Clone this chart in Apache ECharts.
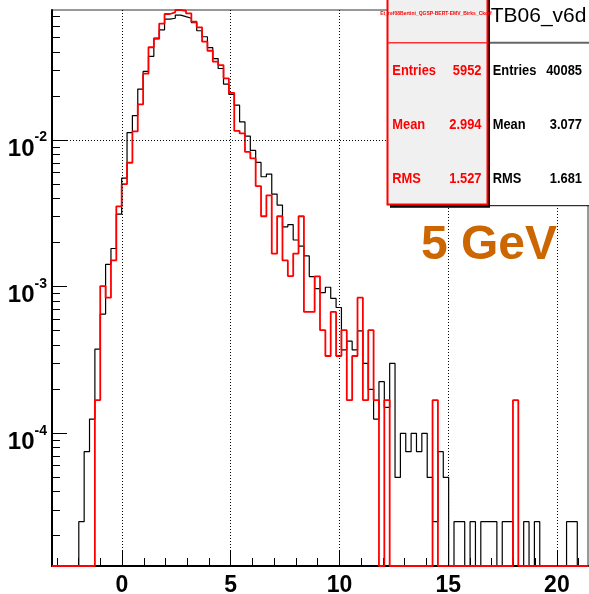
<!DOCTYPE html>
<html><head><meta charset="utf-8">
<script src="https://cdn.jsdelivr.net/npm/echarts@6/dist/echarts.min.js"></script>
<style>html,body{margin:0;padding:0;background:#fff}#c{width:589px;height:594px}</style>
</head><body><div id="c"></div>
<script>
// ---- data (normalized bin contents, 100 equal bins over [xMin, xMax]) ----
const xMin = -3.22, xMax = 21.43;
const yMin = 1.24e-5, yMax = 0.0772;
const blackValues = [
0,0,0,0,0,
2.49e-5,7.48e-5,1.247e-4,3.74e-4,6.49e-4,
1.42e-3,1.82e-3,3.12e-3,5.5e-3,0.01125,
0.0147,0.0223,0.0294,0.0373,0.0496,
0.0565,0.0669,0.0678,0.0713,0.0695,
0.0678,0.0632,0.0557,0.0507,0.0427,
0.036,0.0308,0.0241,0.0205,0.0173,
0.0133,0.01064,0.0085,0.00704,0.00562,
0.00586,0.00428,0.0036,0.00256,0.00265,
0.00208,0.00189,0.00162,0.00117,9.7e-4,
9.1e-4,9.9e-4,8.3e-4,7.2e-4,3.7e-4,
4.24e-4,3.7e-4,4.99e-4,2.99e-4,1.99e-4,
1.247e-4,2.245e-4,1.497e-4,2.99e-4,4.99e-5,
9.98e-5,7.48e-5,9.98e-5,7.48e-5,9.98e-5,
4.99e-5,2.49e-5,7.48e-5,4.99e-5,0,
2.49e-5,2.49e-5,0,2.49e-5,0,
2.49e-5,2.49e-5,2.49e-5,0,2.49e-5,
2.49e-5,0,0,2.49e-5,0,
2.49e-5,0,0,0,0,
0,2.49e-5,2.49e-5,0,0
];
const redValues = [
0,0,0,0,0,
0,0,0,1.68e-4,1.008e-3,
8.4e-4,1.512e-3,3.53e-3,5.0e-3,7.0e-3,
0.01146,0.0175,0.0284,0.043,0.049,
0.0624,0.0725,0.0744,0.0772,0.0763,
0.0733,0.0643,0.0588,0.0469,0.0407,
0.0343,0.0325,0.0264,0.021,0.01156,
0.0111,0.0083,0.0075,0.00485,0.00302,
0.0042,0.00168,0.00302,0.00151,0.00118,
0.00168,0.00302,6.72e-4,6.72e-4,1.176e-3,
5.04e-4,3.36e-4,6.72e-4,3.36e-4,5.04e-4,
1.68e-4,3.36e-4,8.4e-4,1.68e-4,5.04e-4,
1.68e-4,0,1.68e-4,0,0,
0,0,0,0,0,
0,1.68e-4,0,0,0,
0,0,0,0,0,
0,0,0,0,0,
0,1.68e-4,0,0,0,
0,0,0,0,0,
0,0,0,0,0
];
const xMajorTicks = [0, 5, 10, 15, 20];
const xMinorTicks = [-3,-2,-1,0,1,2,3,4,5,6,7,8,9,10,11,12,13,14,15,16,17,18,19,20,21];
const yMajorTicks = [1e-4, 1e-3, 1e-2];
const yMinorTicks = [2e-5,3e-5,4e-5,5e-5,6e-5,7e-5,8e-5,9e-5,
  2e-4,3e-4,4e-4,5e-4,6e-4,7e-4,8e-4,9e-4,
  2e-3,3e-3,4e-3,5e-3,6e-3,7e-3,8e-3,9e-3,
  2e-2,3e-2,4e-2,5e-2,6e-2,7e-2];
const redStats = {title: 'Et_ref08Bertini_QGSP-BERT-EMV_Birks_Ckorf', entries: '5952', mean: '2.994', rms: '1.527'};
const blackStats = {title: 'TB06_v6d', entries: '40085', mean: '3.077', rms: '1.681'};
const energyLabel = '5 GeV';

// ---- build step data from bins ----
function stepData(vals) {
  const w = (xMax - xMin) / vals.length;
  const pts = vals.map((v, i) => [xMin + i * w, v > 0 ? v : yMin]);
  const last = vals[vals.length - 1];
  pts.push([xMax, last > 0 ? last : yMin]);
  return pts;
}

const FF = '"Liberation Sans", Arial, Helvetica, sans-serif';
const chart = echarts.init(document.getElementById('c'), null, {renderer: 'canvas'});

const dotted = {color: '#000', width: 1, type: [1, 2]};

function statTexts(s, color, left, right) {
  const rows = [['Entries', s.entries, 70.8], ['Mean', s.mean, 125], ['RMS', s.rms, 179.2]];
  const out = [];
  rows.forEach(r => {
    out.push({type: 'text', z: 103, x: left, y: r[2], scaleX: 0.92, style: {text: r[0], font: 'bold 14px ' + FF, fill: color, align: 'left', textAlign: 'left', verticalAlign: 'middle', textVerticalAlign: 'middle'}});
    out.push({type: 'text', z: 103, x: right, y: r[2], scaleX: 0.92, style: {text: r[1], font: 'bold 14px ' + FF, fill: color, align: 'right', textAlign: 'right', verticalAlign: 'middle', textVerticalAlign: 'middle'}});
  });
  return out;
}

const graphics = [
  // black (reference) stat box
  {type: 'rect', z: 100, shape: {x: 488, y: -5, width: 110, height: 210.7}, style: {fill: '#fff', stroke: '#000', lineWidth: 1}},
  {type: 'line', z: 101, shape: {x1: 489, y1: 42.7, x2: 589, y2: 42.7}, style: {stroke: '#666', lineWidth: 2}},
  {type: 'text', z: 103, x: 490.7, y: 16.3, style: {text: blackStats.title, font: '21px ' + FF, fill: '#000', align: 'left', textAlign: 'left', verticalAlign: 'middle', textVerticalAlign: 'middle'}},
  // red stat box shadow + box
  {type: 'rect', z: 101, shape: {x: 390, y: 0, width: 100, height: 207.7}, style: {fill: '#000'}},
  {type: 'rect', z: 102, shape: {x: 387.5, y: -5, width: 100, height: 209.5}, style: {fill: '#f0f0f0', stroke: '#ff0000', lineWidth: 2}},
  {type: 'line', z: 103, shape: {x1: 388, y1: 42.7, x2: 487, y2: 42.7}, style: {stroke: '#ff3333', lineWidth: 1.5}},
  {type: 'text', z: 103, x: 436, y: 14, style: {text: redStats.title, font: 'bold 5px ' + FF, fill: '#ff0000', align: 'center', textAlign: 'center', verticalAlign: 'middle', textVerticalAlign: 'middle'}},
  ...statTexts(redStats, '#ff0000', 392.3, 481.5),
  ...statTexts(blackStats, '#000', 492.7, 582),
  {type: 'text', z: 103, x: 421, y: 245.6, style: {text: energyLabel, font: 'bold 48px ' + FF, fill: '#cc6600', align: 'left', textAlign: 'left', verticalAlign: 'middle', textVerticalAlign: 'middle'}}
];

const option = {
  animation: false,
  backgroundColor: '#fff',
  textStyle: {fontFamily: FF},
  grid: {left: 52, top: 10, width: 536, height: 556, show: true, borderColor: '#333', borderWidth: 1, backgroundColor: 'transparent', containLabel: false, outerBoundsMode: 'none'},
  xAxis: [
    {type: 'value', min: xMin, max: xMax, position: 'bottom', gridIndex: 0,
     axisLine: {show: true, onZero: false, lineStyle: {color: '#000', width: 2}},
     axisTick: {show: true, inside: true, length: 16, customValues: xMajorTicks, lineStyle: {color: '#000', width: 1}},
     axisLabel: {show: true, customValues: xMajorTicks, margin: 8, fontSize: 23, fontWeight: 'bold', color: '#000', fontFamily: FF},
     splitLine: {show: false}, minorTick: {show: false}},
    {type: 'value', min: xMin, max: xMax, position: 'bottom', gridIndex: 0,
     axisLine: {show: false, onZero: false},
     axisTick: {show: true, inside: true, length: 8, customValues: xMinorTicks, lineStyle: {color: '#000', width: 1}},
     axisLabel: {show: false}, splitLine: {show: false}}
  ],
  yAxis: [
    {type: 'log', logBase: 10, min: yMin, max: yMax, position: 'left', gridIndex: 0,
     axisLine: {show: true, onZero: false, lineStyle: {color: '#000', width: 2}},
     axisTick: {show: true, inside: true, length: 15, customValues: yMajorTicks, lineStyle: {color: '#000', width: 1}},
     axisLabel: {show: true, customValues: yMajorTicks, margin: 5, padding: [18, 0, 0, 0],
       formatter: v => '{b|10}{s|' + Math.round(Math.log10(v)) + '}',
       rich: {
         b: {fontSize: 24, fontWeight: 'bold', fontFamily: FF, color: '#000', lineHeight: 37, verticalAlign: 'middle'},
         s: {fontSize: 14, fontWeight: 'bold', fontFamily: FF, color: '#000', lineHeight: 14, verticalAlign: 'top'}
       }},
     splitLine: {show: false}},
    {type: 'log', logBase: 10, min: yMin, max: yMax, position: 'left', gridIndex: 0,
     axisLine: {show: false, onZero: false},
     axisTick: {show: true, inside: true, length: 8, customValues: yMinorTicks, lineStyle: {color: '#000', width: 1}},
     axisLabel: {show: false}, splitLine: {show: false}}
  ],
  series: [
    {name: 'grid', type: 'line', xAxisIndex: 0, yAxisIndex: 0, data: [], z: 1, silent: true,
     markLine: {silent: true, symbol: ['none', 'none'], label: {show: false}, lineStyle: dotted, animation: false,
       data: [...xMajorTicks.map(v => ({xAxis: v})), ...yMajorTicks.map(v => ({yAxis: v}))]}},
    {name: blackStats.title, type: 'line', step: 'end', xAxisIndex: 0, yAxisIndex: 0, data: stepData(blackValues),
     symbol: 'none', showSymbol: false, clip: true, z: 3, lineStyle: {color: '#000', width: 1.2}, itemStyle: {color: '#000'}},
    {name: 'ref', type: 'line', step: 'end', xAxisIndex: 0, yAxisIndex: 0, data: stepData(redValues),
     symbol: 'none', showSymbol: false, clip: true, z: 4, lineStyle: {color: '#ff0000', width: 1.8}, itemStyle: {color: '#ff0000'}}
  ],
  graphic: {elements: graphics}
};
chart.setOption(option);
</script></body></html>
